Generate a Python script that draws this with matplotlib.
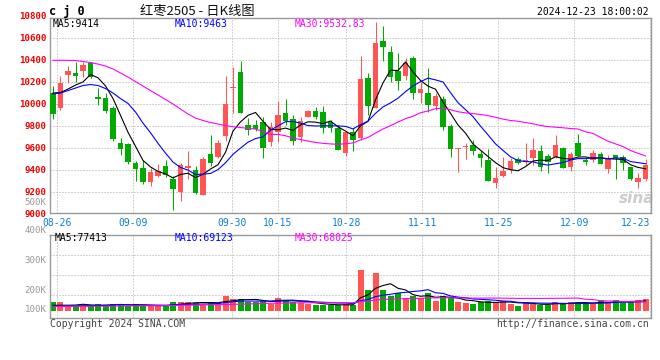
import numpy as np
import matplotlib
matplotlib.use("Agg")
import matplotlib.pyplot as plt

# trading days shown, 08-23 .. 12-23
dates = ["08-23",
         "08-26", "08-27", "08-28", "08-29", "08-30",
         "09-02", "09-03", "09-04", "09-05", "09-06",
         "09-09", "09-10", "09-11", "09-12", "09-13",
         "09-18", "09-19", "09-20",
         "09-23", "09-24", "09-25", "09-26", "09-27",
         "09-30",
         "10-08", "10-09", "10-10", "10-11",
         "10-14", "10-15", "10-16", "10-17", "10-18",
         "10-21", "10-22", "10-23", "10-24", "10-25",
         "10-28", "10-29", "10-30", "10-31", "11-01",
         "11-04", "11-05", "11-06", "11-07", "11-08",
         "11-11", "11-12", "11-13", "11-14", "11-15",
         "11-18", "11-19", "11-20", "11-21", "11-22",
         "11-25", "11-26", "11-27", "11-28", "11-29",
         "12-02", "12-03", "12-04", "12-05", "12-06",
         "12-09", "12-10", "12-11", "12-12", "12-13",
         "12-16", "12-17", "12-18", "12-19", "12-20",
         "12-23"]

opens = [10107, 9964, 10266, 10287, 10303, 10375, 10066, 10062, 9966, 9648,
         9639, 9469, 9424, 9296, 9351, 9439, 9321, 9206, 9421, 9403,
         9175, 9548, 9521, 9715, 10145, 10296, 9812, 9812, 9839, 9660,
         9751, 9924, 9864, 9705, 9887, 9939, 9933, 9842, 9782, 9555,
         9751, 9691, 10236, 9971, 10575, 10475, 10300, 10257, 10421, 10105,
         10103, 9982, 10048, 9803, 9596, 9612, 9630, 9548, 9494, 9282,
         9351, 9403, 9500, 9478, 9515, 9575, 9533, 9524, 9607, 9433,
         9651, 9494, 9494, 9548, 9412, 9539, 9524, 9427, 9296, 9321]
highs = [10166, 10257, 10348, 10385, 10385, 10387, 10144, 10103, 9985, 9694,
         9648, 9485, 9494, 9421, 9457, 9494, 9348, 9466, 9575, 9439,
         9521, 9721, 9675, 10257, 10342, 10394, 9875, 9857, 9885, 9842,
         10033, 10045, 9903, 9887, 9948, 9978, 9985, 9857, 9812, 9757,
         9782, 10439, 10287, 10751, 10712, 10530, 10464, 10418, 10439, 10207,
         10327, 10100, 10075, 9821, 9606, 9651, 9675, 9585, 9591, 9433,
         9524, 9509, 9521, 9645, 9691, 9630, 9545, 9721, 9612, 9566,
         9730, 9512, 9585, 9569, 9539, 9539, 9539, 9427, 9373, 9503]
lows = [9866, 9948, 10194, 10207, 10248, 10243, 9994, 9925, 9666, 9539,
        9457, 9303, 9275, 9257, 9339, 9339, 9044, 9124, 9321, 9189,
        9175, 9442, 9512, 9669, 9918, 9921, 9721, 9757, 9509, 9621,
        9660, 9812, 9630, 9660, 9882, 9864, 9736, 9751, 9585, 9533,
        9578, 9675, 9903, 9966, 10394, 10205, 10130, 10221, 10048, 10015,
        9933, 9948, 9766, 9524, 9387, 9500, 9539, 9433, 9303, 9236,
        9339, 9373, 9457, 9448, 9448, 9394, 9373, 9512, 9421, 9396,
        9530, 9448, 9475, 9455, 9373, 9325, 9403, 9312, 9236, 9306]
closes = [9912, 10191, 10303, 10257, 10357, 10245, 10045, 9935, 9682, 9594,
          9475, 9409, 9291, 9385, 9394, 9357, 9230, 9448, 9439, 9196,
          9507, 9469, 9645, 10003, 10162, 9924, 9766, 9775, 9600, 9796,
          9903, 9848, 9666, 9848, 9942, 9887, 9782, 9782, 9585, 9751,
          9675, 10230, 9987, 10560, 10524, 10251, 10215, 10375, 10105, 10139,
          9994, 10073, 9796, 9591, 9606, 9624, 9578, 9515, 9306, 9327,
          9396, 9487, 9464, 9494, 9585, 9433, 9473, 9630, 9425, 9548,
          9530, 9478, 9560, 9455, 9509, 9509, 9464, 9318, 9333, 9448]
volumes = [68900, 68900, 36000, 36000, 36000, 43700, 51300, 36000, 51300, 51300,
           36000, 51300, 36000, 36000, 36000, 36000, 68900, 68900, 68900, 61300,
           43700, 68900, 61300, 114900, 89600, 89600, 68900, 68900, 76600, 51300,
           99600, 82000, 68900, 61300, 51300, 43700, 43700, 43700, 43700, 51300,
           43700, 311800, 158600, 291100, 158600, 112600, 137900, 95000, 112600, 95000,
           137900, 74300, 112600, 95000, 66600, 59000, 51300, 66600, 74300, 66600,
           74300, 51300, 36000, 66600, 51300, 43700, 43700, 66600, 59000, 66600,
           66600, 51300, 51300, 82000, 66600, 82000, 59000, 66600, 82000, 89600]

# moving averages before the first full window
ma5_head = [10103, 10107, 10139, 10175]
ma10_head = [10094, 10103, 10125, 10148, 10171, 10180, 10171, 10144, 10103]
ma30_head = [10400, 10400, 10400, 10398, 10389, 10380, 10366, 10348, 10321, 10285,
             10248, 10207, 10166, 10125, 10085, 10044, 10003, 9957, 9912, 9875,
             9853, 9835, 9821, 9807, 9796, 9789, 9782, 9775, 9753]
vma5_head = [41000, 42000, 42000, 43000]
vma10_head = [35000, 35500, 36500, 37500, 38500, 40000, 41500, 43000, 45000]
vma30_head = [33000, 33000, 33500, 33500, 34000, 34000, 34500, 35000, 35500, 36000,
              36500, 37000, 37500, 38000, 38500, 39000, 40000, 41000, 42000, 43000,
              44000, 45000, 46000, 47000, 48500, 50000, 51500, 53000, 55000]

tick_dates = ["08-26", "09-09", "09-30", "10-15", "10-28", "11-11", "11-25", "12-09", "12-23"]
price_labels = [10800, 10600, 10400, 10200, 10000, 9800, 9600, 9400, 9200, 9000]
vol_labels = ["500K", "400K", "300K", "200K", "100K"]

RED = "#ff5555"
GREEN = "#00aa00"
MONO = "DejaVu Sans Mono"


def moving_avg(vals, n, head):
    vals = np.asarray(vals, float)
    out = np.empty(len(vals))
    out[:n - 1] = head
    out[n - 1:] = np.convolve(vals, np.ones(n) / n, mode="valid")
    return out


def grid_x(i):
    # sina spaces the date grid slightly wider than the candles
    return (4.3 + 7.6 * (i - 1)) / 7.5


x = np.arange(len(dates))
o = np.array(opens, float)
c = np.array(closes, float)
up = c >= o
cols = np.where(up, RED, GREEN)

W, H = 660.0, 360.0
fig = plt.figure(figsize=(6.6, 3.6), dpi=100)
ax = fig.add_axes([50.5 / W, 1 - 212.7 / H, 600 / W, (212.7 - 18.3) / H])
axv = fig.add_axes([50.5 / W, 1 - 318.3 / H, 600 / W, (318.3 - 234.7) / H])

xlim = (-2.5 / 7.5, 597.5 / 7.5)
tick_pos = [grid_x(dates.index(d)) for d in tick_dates]

for a in (ax, axv):
    a.set_xlim(*xlim)
    for s in a.spines.values():
        s.set_color("#999999")
        s.set_linewidth(1.0)
    a.set_xticks(tick_pos)
    a.tick_params(length=0)
    a.grid(True, color="#a8a8a8", lw=0.72, ls=(0, (1, 2)))
    a.set_axisbelow(True)

# ---- price panel
ax.set_ylim(9015, 10782)
ax.set_yticks([10600, 10400, 10200, 10000, 9800, 9600, 9400, 9200])
ax.set_yticklabels([])
ax.vlines(x, lows, highs, colors=cols, lw=0.75, zorder=2)
body = np.maximum(np.abs(c - o), 9)
ax.bar(x, body, bottom=np.minimum(o, c), width=0.76, color=cols, lw=0, zorder=3)

ax.plot(x, moving_avg(closes, 5, ma5_head), color="black", lw=0.8, zorder=4)
ax.plot(x, moving_avg(closes, 10, ma10_head), color="#0000ff", lw=0.8, zorder=4)
ax.plot(x, moving_avg(closes, 30, ma30_head), color="#ff00ff", lw=0.8, zorder=4)

ax.set_xticklabels(tick_dates, fontsize=7, family=MONO, color="#0a7fd8")
ax.tick_params(axis="x", pad=4)
ax.get_xticklabels()[-1].set_ha("right")

for v in price_labels:
    ax.text(-0.0065, v, str(v), transform=ax.get_yaxis_transform(), ha="right",
            va="center", fontsize=6.6, family=MONO, weight="bold", color="#ee0000",
            clip_on=False)

ax.text(0.004, 0.972, "MA5:9414", transform=ax.transAxes, fontsize=7, family=MONO,
        color="black", va="center")
ax.text(0.2075, 0.972, "MA10:9463", transform=ax.transAxes, fontsize=7, family=MONO,
        color="#0000ff", va="center")
ax.text(0.4075, 0.972, "MA30:9532.83", transform=ax.transAxes, fontsize=7, family=MONO,
        color="#ff00ff", va="center")

ax.text(0.977, 0.075, "sina", transform=ax.transAxes, fontsize=11, style="italic",
        weight="bold", color="#cccccc", ha="center", va="center", zorder=1)

# ---- volume panel
vscale = 7660.0
axv.set_ylim(-7.6 * vscale, 76 * vscale)
axv.set_yticks([55.7 * vscale, 35.7 * vscale, 15.4 * vscale])
axv.set_yticklabels([])
axv.set_xticklabels([])
axv.bar(x, volumes, width=0.8, color=cols, lw=0, zorder=2)
axv.plot(x, moving_avg(volumes, 5, vma5_head), color="black", lw=0.8, zorder=3)
axv.plot(x, moving_avg(volumes, 10, vma10_head), color="#0000ff", lw=0.8, zorder=3)
axv.plot(x, moving_avg(volumes, 30, vma30_head), color="#ff00ff", lw=0.8, zorder=3)

axv.text(0.007, 0.957, "MA5:77413", transform=axv.transAxes, fontsize=7, family=MONO,
         color="black", va="center")
axv.text(0.2075, 0.957, "MA10:69123", transform=axv.transAxes, fontsize=7, family=MONO,
         color="#0000ff", va="center")
axv.text(0.4075, 0.957, "MA30:68025", transform=axv.transAxes, fontsize=7, family=MONO,
         color="#ff00ff", va="center")

for lab, ypx in zip(vol_labels, [202.5, 230.7, 260.7, 290.7, 310]):
    fig.text(46.7 / W, 1 - ypx / H, lab, ha="right", va="center", fontsize=6.6,
             family=MONO, color="#999999")

# ---- header / footer
fig.text(49 / W, 1 - 11 / H, "c j 0", ha="left", va="center", fontsize=8.5,
         family=MONO, weight="bold", color="black")
fig.text(140 / W, 1 - 11 / H, "红枣2505 - 日K线图", ha="left", va="center", fontsize=9.5,
         family=["Noto Sans CJK SC", "DejaVu Sans"], color="#111111")
fig.text(649 / W, 1 - 12.3 / H, "2024-12-23 18:00:02", ha="right", va="center",
         fontsize=7, family=MONO, color="black")
fig.text(50 / W, 1 - 324 / H, "Copyright 2024 SINA.COM", ha="left", va="center",
         fontsize=7, family=MONO, color="#444444")
fig.text(649 / W, 1 - 324 / H, "http://finance.sina.com.cn", ha="right", va="center",
         fontsize=7, family=MONO, color="#444444")

fig.savefig("out.png", dpi=100)
